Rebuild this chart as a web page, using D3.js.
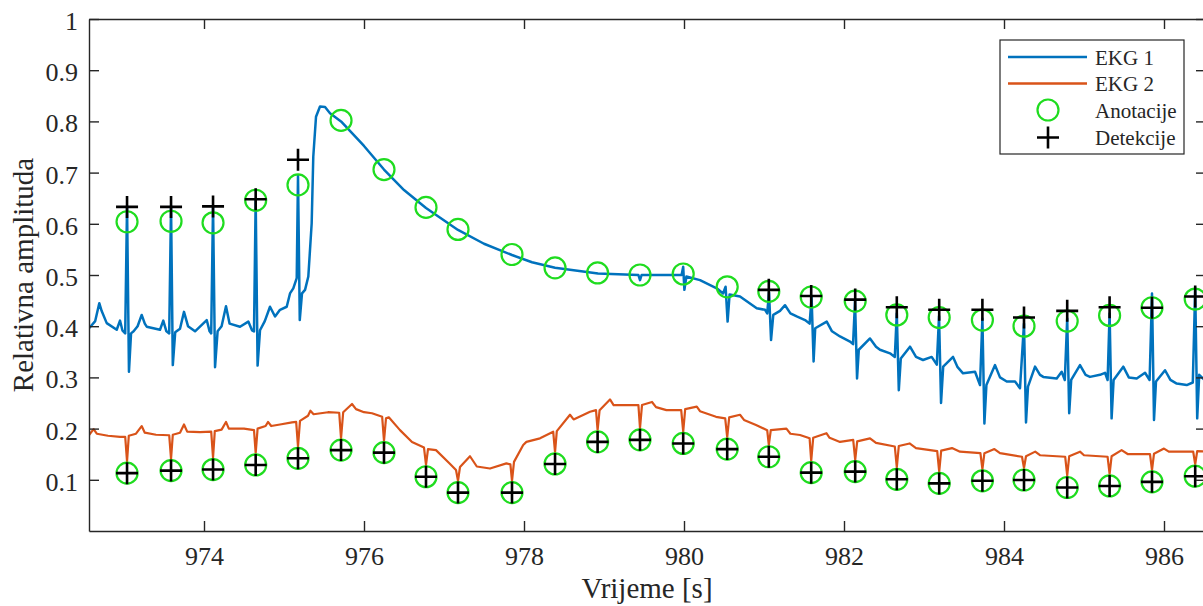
<!DOCTYPE html>
<html><head><meta charset="utf-8">
<script src="https://cdn.jsdelivr.net/npm/d3@7"></script>
<style>
html,body{margin:0;padding:0;background:#fff;}
svg{display:block;}
svg text{font-family:"Liberation Serif","Times New Roman",serif !important;fill:#262626;}
</style></head>
<body>
<svg id="chart" width="1203" height="606"></svg>
<script>
// ---- data (time in s, relative amplitude) ----
const xTicks = [974, 976, 978, 980, 982, 984, 986];
const yTicks = [0.1, 0.2, 0.3, 0.4, 0.5, 0.6, 0.7, 0.8, 0.9, 1];
const yTickLabels = ["0.1","0.2","0.3","0.4","0.5","0.6","0.7","0.8","0.9","1"];
const seriesNames = ["EKG 1", "EKG 2", "Anotacije", "Detekcije"];

const ekg1 = [
[972.563,0.396],[972.64,0.41],[972.691,0.445],[972.72,0.43],[972.784,0.406],[972.909,0.393],[972.95,0.411],[972.98,0.392],[973.015,0.386],[973.038,0.635],[973.062,0.311],[973.088,0.386],[973.12,0.39],[973.17,0.40],[973.221,0.422],[973.26,0.405],[973.284,0.399],[973.45,0.393],[973.491,0.411],[973.53,0.39],[973.565,0.386],[973.588,0.635],[973.61,0.324],[973.64,0.388],[973.7,0.395],[973.75,0.428],[973.8,0.40],[973.888,0.39],[974.034,0.412],[974.07,0.39],[974.09,0.386],[974.113,0.635],[974.138,0.32],[974.17,0.39],[974.22,0.40],[974.275,0.439],[974.32,0.405],[974.45,0.399],[974.554,0.409],[974.6,0.392],[974.625,0.39],[974.646,0.648],[974.67,0.323],[974.7,0.392],[974.76,0.41],[974.825,0.438],[974.888,0.419],[974.95,0.432],[975.034,0.438],[975.075,0.464],[975.116,0.474],[975.159,0.494],[975.175,0.695],[975.197,0.412],[975.225,0.464],[975.263,0.471],[975.304,0.497],[975.346,0.601],[975.366,0.731],[975.4,0.809],[975.45,0.829],[975.513,0.828],[975.575,0.816],[975.713,0.80],[976.0,0.752],[976.25,0.706],[976.5,0.666],[976.775,0.631],[977.175,0.588],[977.5,0.561],[977.85,0.539],[978.1,0.525],[978.388,0.514],[978.925,0.503],[979.43,0.50],[979.45,0.49],[979.47,0.50],[979.97,0.50],[979.99,0.516],[980.005,0.471],[980.03,0.497],[980.2,0.49],[980.409,0.474],[980.488,0.464],[980.52,0.477],[980.545,0.409],[980.57,0.462],[980.7,0.458],[980.909,0.435],[981.013,0.432],[981.04,0.425],[981.063,0.466],[981.088,0.373],[981.116,0.422],[981.2,0.43],[981.263,0.441],[981.33,0.425],[981.409,0.419],[981.513,0.412],[981.57,0.405],[981.595,0.456],[981.62,0.331],[981.64,0.396],[981.784,0.409],[981.85,0.39],[981.95,0.38],[982.075,0.37],[982.113,0.365],[982.138,0.449],[982.163,0.298],[982.185,0.354],[982.325,0.376],[982.4,0.36],[982.45,0.354],[982.575,0.347],[982.635,0.34],[982.66,0.425],[982.685,0.275],[982.71,0.337],[982.825,0.36],[982.9,0.34],[982.988,0.334],[983.096,0.34],[983.16,0.325],[983.188,0.42],[983.213,0.25],[983.24,0.321],[983.363,0.34],[983.42,0.32],[983.488,0.308],[983.638,0.311],[983.7,0.285],[983.73,0.415],[983.755,0.21],[983.78,0.285],[983.888,0.324],[983.95,0.30],[984.034,0.292],[984.138,0.292],[984.2,0.279],[984.25,0.405],[984.275,0.212],[984.3,0.282],[984.388,0.321],[984.45,0.305],[984.491,0.301],[984.659,0.298],[984.721,0.311],[984.76,0.295],[984.79,0.415],[984.815,0.23],[984.84,0.295],[984.95,0.324],[985.02,0.305],[985.075,0.301],[985.2,0.305],[985.263,0.309],[985.295,0.295],[985.32,0.425],[985.345,0.22],[985.37,0.295],[985.491,0.321],[985.56,0.30],[985.659,0.298],[985.763,0.309],[985.82,0.295],[985.85,0.464],[985.875,0.217],[985.9,0.292],[986.013,0.314],[986.08,0.295],[986.159,0.288],[986.284,0.285],[986.36,0.29],[986.39,0.474],[986.415,0.22],[986.44,0.305],[986.525,0.292]
];

const ekg2 = [
[972.563,0.1875],[972.62,0.199],[972.66,0.19],[972.8,0.186],[972.95,0.184],[973.015,0.184],[973.038,0.136],[973.06,0.186],[973.15,0.19],[973.221,0.205],[973.26,0.192],[973.4,0.188],[973.565,0.187],[973.588,0.141],[973.61,0.188],[973.7,0.192],[973.75,0.208],[973.79,0.194],[973.95,0.193],[974.09,0.194],[974.113,0.143],[974.135,0.195],[974.22,0.198],[974.275,0.213],[974.31,0.2],[974.5,0.2],[974.625,0.197],[974.646,0.152],[974.67,0.2],[974.77,0.205],[974.8,0.213],[974.84,0.205],[974.95,0.208],[975.1,0.212],[975.152,0.213],[975.175,0.165],[975.2,0.215],[975.3,0.225],[975.33,0.235],[975.37,0.228],[975.55,0.232],[975.69,0.231],[975.713,0.181],[975.74,0.232],[975.85,0.248],[975.9,0.238],[976.0,0.232],[976.1,0.23],[976.227,0.223],[976.25,0.176],[976.275,0.22],[976.31,0.222],[976.45,0.197],[976.6,0.174],[976.75,0.163],[976.775,0.129],[976.8,0.16],[976.9,0.158],[977.07,0.132],[977.15,0.119],[977.175,0.098],[977.2,0.125],[977.325,0.146],[977.41,0.126],[977.575,0.122],[977.78,0.132],[977.83,0.13],[977.85,0.098],[977.875,0.135],[977.99,0.168],[978.03,0.174],[978.2,0.181],[978.365,0.194],[978.388,0.154],[978.41,0.195],[978.575,0.227],[978.62,0.218],[978.825,0.233],[978.9,0.236],[978.92,0.197],[978.945,0.236],[979.075,0.257],[979.12,0.246],[979.24,0.246],[979.43,0.246],[979.45,0.201],[979.475,0.246],[979.6,0.252],[979.65,0.242],[979.78,0.236],[979.965,0.236],[979.99,0.194],[980.015,0.238],[980.16,0.243],[980.2,0.234],[980.4,0.223],[980.515,0.22],[980.54,0.183],[980.565,0.222],[980.7,0.227],[980.75,0.217],[980.9,0.207],[981.04,0.197],[981.06,0.168],[981.085,0.197],[981.28,0.2],[981.33,0.19],[981.45,0.1875],[981.57,0.181],[981.59,0.137],[981.615,0.182],[981.78,0.191],[981.82,0.182],[981.95,0.174],[982.115,0.178],[982.14,0.139],[982.165,0.175],[982.325,0.181],[982.4,0.172],[982.635,0.165],[982.66,0.124],[982.685,0.166],[982.82,0.171],[982.9,0.162],[983.165,0.156],[983.19,0.116],[983.215,0.157],[983.35,0.162],[983.45,0.155],[983.705,0.152],[983.73,0.121],[983.755,0.152],[983.88,0.16],[983.95,0.152],[984.225,0.145],[984.25,0.123],[984.275,0.146],[984.39,0.155],[984.45,0.148],[984.765,0.145],[984.79,0.108],[984.815,0.146],[984.95,0.155],[985.0,0.148],[985.295,0.145],[985.32,0.111],[985.345,0.146],[985.47,0.158],[985.55,0.15],[985.825,0.15],[985.85,0.119],[985.875,0.151],[986.0,0.161],[986.06,0.155],[986.365,0.155],[986.39,0.13],[986.415,0.156],[986.525,0.155]
];

const beatTimes = [973.038,973.588,974.113,974.646,975.175,975.713,976.25,976.775,977.175,977.85,978.388,978.92,979.45,979.99,980.54,981.06,981.59,982.14,982.66,983.19,983.73,984.25,984.79,985.32,985.85,986.39];
const ann1 = [0.604,0.605,0.602,0.646,0.676,0.802,0.706,0.632,0.589,0.54,0.514,0.504,0.50,0.502,0.477,0.468,0.457,0.449,0.422,0.417,0.412,0.40,0.41,0.421,0.436,0.453];
const ann2 = [0.113,0.118,0.12,0.129,0.142,0.158,0.153,0.106,0.075,0.075,0.131,0.174,0.178,0.171,0.16,0.145,0.114,0.116,0.101,0.093,0.098,0.0996,0.085,0.088,0.096,0.107];
const det1Times = [973.038,973.588,974.113,974.646,975.175,981.06,981.59,982.14,982.66,983.19,983.73,984.25,984.79,985.32,985.85,986.39];
const det1 = [0.633,0.633,0.634,0.648,0.725,0.471,0.459,0.452,0.437,0.432,0.432,0.417,0.430,0.437,0.436,0.458];
const det2 = [0.113,0.118,0.12,0.129,0.142,0.158,0.153,0.106,0.075,0.075,0.131,0.174,0.178,0.171,0.16,0.145,0.114,0.116,0.101,0.093,0.098,0.0996,0.085,0.088,0.096,0.107];

// ---- layout ----
const svg = d3.select("#chart");
const L = 89, R = 1206, T = 19, B = 531;
const x = d3.scaleLinear().domain([972.5625, 986.525]).range([L, R]);
const y = d3.scaleLinear().domain([0, 1]).range([B, T]);
const axisColor = "#262626";
const serif = '"Liberation Serif", "Times New Roman", serif';
const blue = "#0072BD", orange = "#D95319", green = "#1fdc1f";

svg.append("defs").append("clipPath").attr("id","clip")
  .append("rect").attr("x",L).attr("y",T).attr("width",R-L).attr("height",B-T);

const plot = svg.append("g").attr("clip-path","url(#clip)");
const line = d3.line().x(d => x(d[0])).y(d => y(d[1]));
plot.append("path").datum(ekg1).attr("d", line).attr("fill","none")
  .attr("stroke", blue).attr("stroke-width", 2.5).attr("stroke-linejoin","round");
plot.append("path").datum(ekg2).attr("d", line).attr("fill","none")
  .attr("stroke", orange).attr("stroke-width", 2.2).attr("stroke-linejoin","round");

const annPts = beatTimes.map((t,i)=>[t,ann1[i]]).concat(beatTimes.map((t,i)=>[t,ann2[i]]));
const detPts = det1Times.map((t,i)=>[t,det1[i]]).concat(beatTimes.map((t,i)=>[t,det2[i]]));

const mk = svg.append("g");
mk.selectAll("circle.ann").data(annPts).join("circle").attr("class","ann")
  .attr("cx", d=>x(d[0])).attr("cy", d=>y(d[1])).attr("r", 10.5)
  .attr("fill","none").attr("stroke", green).attr("stroke-width", 2.2);
const plusPath = (cx, cy, s) => `M${cx-s},${cy}H${cx+s}M${cx},${cy-s}V${cy+s}`;
mk.selectAll("path.det").data(detPts).join("path").attr("class","det")
  .attr("d", d=>plusPath(x(d[0]), y(d[1]), 11))
  .attr("stroke","#000").attr("stroke-width", 2.6).attr("fill","none");

// ---- axes ----
const fs = 26;
const gx = svg.append("g").attr("transform",`translate(0,${B})`)
  .call(d3.axisBottom(x).tickValues(xTicks).tickFormat(d3.format("d")).tickSizeInner(-10).tickSizeOuter(0).tickPadding(16));
const gxt = svg.append("g").attr("transform",`translate(0,${T})`)
  .call(d3.axisTop(x).tickValues(xTicks).tickFormat("").tickSizeInner(-10).tickSizeOuter(0));
const gy = svg.append("g").attr("transform",`translate(${L},0)`)
  .call(d3.axisLeft(y).tickValues(yTicks).tickFormat((d,i)=>yTickLabels[i]).tickSizeInner(-10).tickSizeOuter(0).tickPadding(11));
const gyr = svg.append("g").attr("transform",`translate(${R},0)`)
  .call(d3.axisRight(y).tickValues(yTicks).tickFormat("").tickSizeInner(-10).tickSizeOuter(0));
[gx,gxt,gy,gyr].forEach(g=>{
  g.attr("font-family", null);
  g.select(".domain").attr("stroke",axisColor).attr("stroke-width",1.4);
  g.selectAll(".tick line").attr("stroke",axisColor).attr("stroke-width",1.4);
  g.selectAll(".tick text").style("font-family",serif).style("font-size",fs+"px").attr("fill",axisColor);
});
gy.selectAll(".tick text").attr("dy","0.4em");

svg.append("text").attr("x", 647).attr("y", 598).attr("text-anchor","middle")
  .style("font-family",serif).style("font-size","29px").text("Vrijeme [s]");
svg.append("text").attr("transform","translate(33,275) rotate(-90)").attr("text-anchor","middle")
  .style("font-family",serif).style("font-size","29px").text("Relativna amplituda");

// ---- legend ----
const lg = svg.append("g");
lg.append("rect").attr("x",1000).attr("y",40).attr("width",184).attr("height",114)
  .attr("fill","#fff").attr("stroke",axisColor).attr("stroke-width",1.2);
const rowY = [57, 83.5, 110, 137.5];
lg.append("line").attr("x1",1008).attr("x2",1087).attr("y1",rowY[0]).attr("y2",rowY[0]).attr("stroke",blue).attr("stroke-width",2.5);
lg.append("line").attr("x1",1008).attr("x2",1087).attr("y1",rowY[1]).attr("y2",rowY[1]).attr("stroke",orange).attr("stroke-width",2.5);
lg.append("circle").attr("cx",1048).attr("cy",rowY[2]).attr("r",10.5).attr("fill","none").attr("stroke",green).attr("stroke-width",2.2);
lg.append("path").attr("d",plusPath(1048,rowY[3],11)).attr("stroke","#000").attr("stroke-width",2.6);
lg.selectAll("text.lt").data(seriesNames).join("text").attr("class","lt")
  .attr("x",1095).attr("y",(d,i)=>rowY[i]+7.5).style("font-family",serif).style("font-size","21px").text(d=>d);
</script>
</body></html>
